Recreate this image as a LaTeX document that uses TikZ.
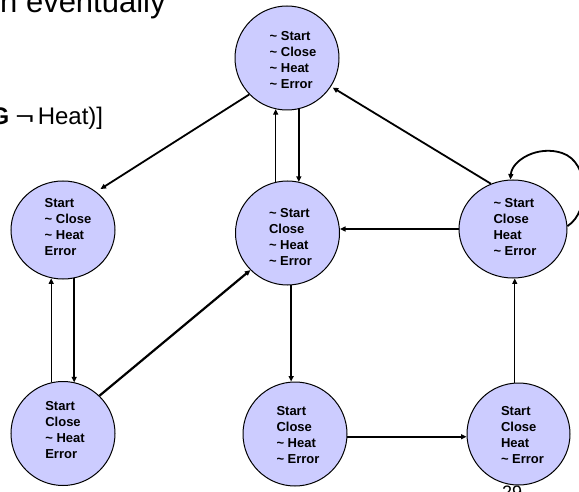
\documentclass[tikz,border=0pt]{standalone}
\usepackage{fontspec}
\setmainfont{Liberation Sans}
\usepackage{graphicx}
\usetikzlibrary{arrows.meta,shapes.geometric}
\definecolor{statefill}{RGB}{204,204,255}
\newcommand{\nt}{\textasciitilde\ }
% #1: vertical raise, #2: left padding, #3: the lines of the state
\newcommand{\statelines}[3]{\raisebox{#1}[\height][\depth]{\begin{tabular}{@{\hspace{#2}}l@{}}#3\end{tabular}}}
\tikzset{
  state/.style={ellipse, draw=black, line width=1pt, fill=statefill,
    minimum width=104pt, minimum height=104pt, inner sep=0pt,
    font=\fontsize{13}{16}\selectfont\bfseries},
  edge/.style={line width=1.8pt, -{Triangle[length=5.5pt,width=5pt]}},
  thin edge/.style={edge, line width=1.2pt},
}
\begin{document}
\begin{tikzpicture}[x=1pt,y=-1pt]
  \useasboundingbox (0,0) rectangle (579,492);
  \clip (0,0) rectangle (579,492);

  % text lines of the slide
  \node[anchor=base west, inner sep=0pt, font=\fontsize{31}{31}\selectfont] (title) at (0,12.5) {n eventually};
  \node[anchor=base west, inner sep=0pt, font=\fontsize{24}{24}\selectfont] (formula) at (-9.5,125)
    {\textbf{G}\hspace{6pt}\scalebox{1.35}[1]{¬}\hspace{3.5pt}Heat)]};
  \node[anchor=north west, inner sep=0pt, font=\fontsize{18}{18}\selectfont] (pagenum) at (502,485.5) {29};

  % states
  \node[state] (T) at (287,58) {\statelines{-3.5pt}{12pt}{\nt Start\\ \nt Close\\ \nt Heat\\ \nt Error}};
  \node[state, minimum height=98pt] (L) at (63,230) {\statelines{2pt}{10pt}{Start\\ \nt Close\\ \nt Heat\\ Error}};
  \node[state] (M) at (287.5,233) {\statelines{-5pt}{6pt}{\nt Start\\ Close\\ \nt Heat\\ \nt Error}};
  \node[state, minimum width=108pt, minimum height=98pt] (R) at (513,229) {\statelines{1pt}{4pt}{\nt Start\\ Close\\ Heat\\ \nt Error}};
  \node[state] (BL) at (63,433.5) {\statelines{2pt}{4pt}{Start\\ Close\\ \nt Heat\\ Error}};
  \node[state] (BM) at (295,434) {\statelines{-2pt}{6pt}{Start\\ Close\\ \nt Heat\\ \nt Error}};
  \node[state, minimum width=103pt, minimum height=102pt] (BR) at (518.5,434) {\statelines{-2pt}{8pt}{Start\\ Close\\ Heat\\ \nt Error}};

  % transitions
  \draw[edge, shorten >=5pt] (T.224) -- (L.49);
  \draw[thin edge] (M.103) -- (M.103 |- T.257);
  \draw[edge] (T.283) -- (T.283 |- M.77);
  \draw[edge, shorten >=2pt] (R.116) -- (T.327);
  \draw[edge] (R.3) .. controls (590,212) and (590,162) .. (562,153)
                    .. controls (538,145) and (512,160) .. (R.93);
  \draw[edge] (R.west) -- (R.west -| M.east);
  \draw[edge] (M.274) -- (M.274 |- BM.north);
  \draw[edge] (BM.-3) -- (BM.-3 -| BR.west);
  \draw[thin edge] (R.272 |- BR.north) -- (R.272);
  \draw[edge, line width=2.2pt] (BL.46) -- (M.225);
  \draw[thin edge] (BL.103) -- (BL.103 |- L.257);
  \draw[edge] (L.283) -- (L.283 |- BL.77);
\end{tikzpicture}
\end{document}
